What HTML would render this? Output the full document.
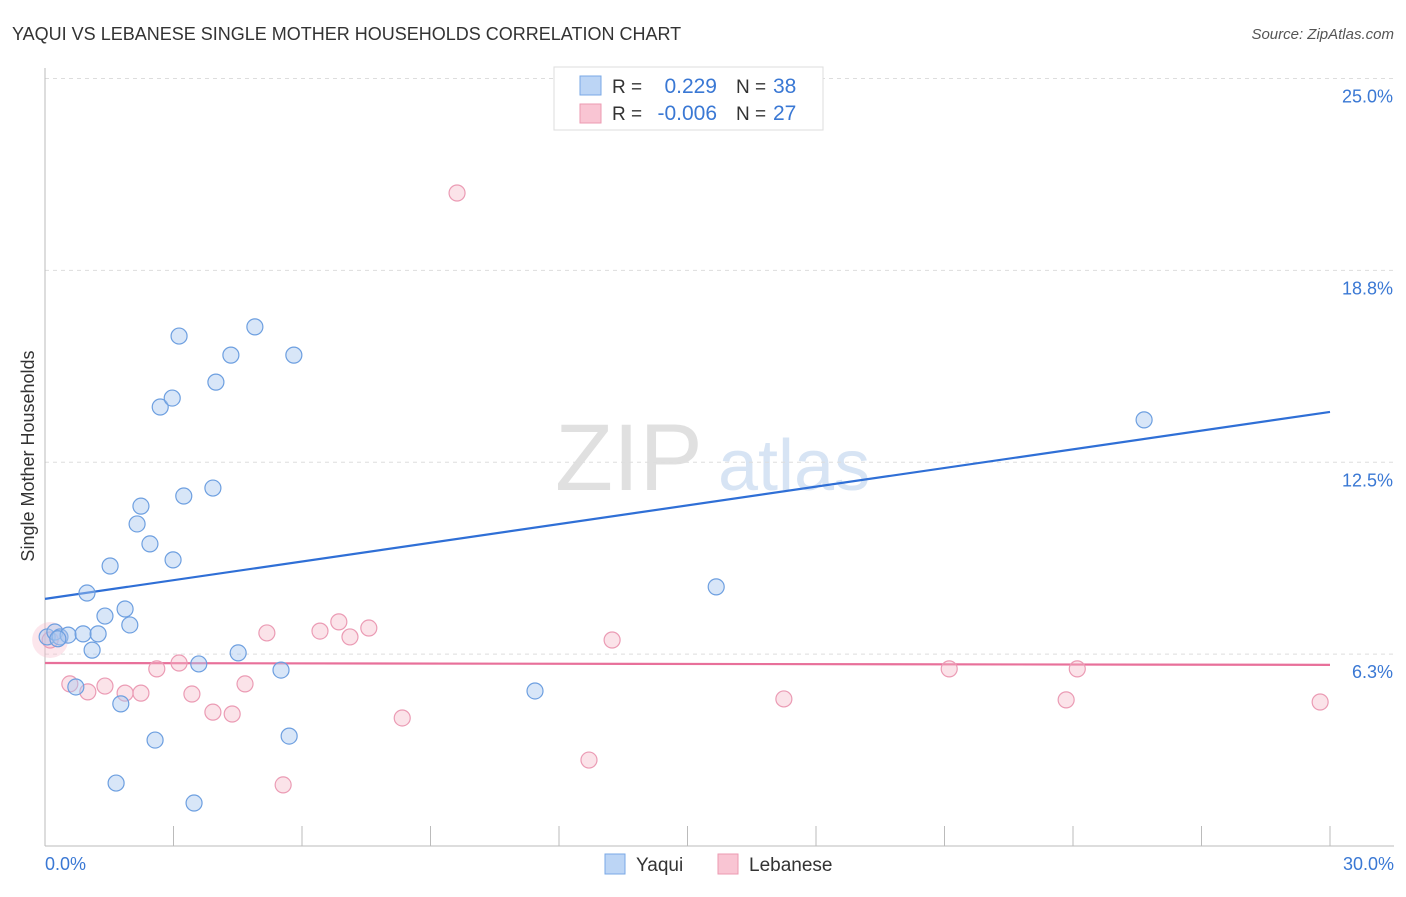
<!DOCTYPE html>
<html><head><meta charset="utf-8"><style>
body{margin:0;background:#fff;font-family:"Liberation Sans",sans-serif;}
svg text{font-family:"Liberation Sans",sans-serif;}
</style></head><body>
<svg id="chart" width="1406" height="892" xmlns="http://www.w3.org/2000/svg">
<text x="12" y="40" font-size="18" fill="#333">YAQUI VS LEBANESE SINGLE MOTHER HOUSEHOLDS CORRELATION CHART</text>
<text x="1394" y="39" font-size="15" fill="#555" text-anchor="end" font-style="italic">Source: ZipAtlas.com</text>
<text transform="translate(34,456) rotate(-90)" font-size="18" fill="#333" text-anchor="middle">Single Mother Households</text>
<g opacity="0.45"><text x="555" y="490" font-size="95" fill="#bbb" font-family="Liberation Serif">ZIP</text><text x="718" y="490" font-size="72" fill="#a8c4e8">atlas</text></g>
<g id="grid"></g><g id="axes"></g><g id="trends"></g><g id="pts"></g>
<g>
<rect x="554" y="67" width="269" height="63" fill="#fff" stroke="#ddd"/>
<rect x="580" y="76" width="21" height="19" fill="#bcd5f5" stroke="#7aa8e6"/>
<rect x="580" y="104" width="21" height="19" fill="#f9c5d3" stroke="#ec9ab2"/>
<text x="612" y="93" font-size="19" fill="#333">R =</text><text x="717" y="93" font-size="21" fill="#3a78d4" text-anchor="end">0.229</text>
<text x="736" y="93" font-size="19" fill="#333">N =</text><text x="773" y="93" font-size="21" fill="#3a78d4">38</text>
<text x="612" y="120" font-size="19" fill="#333">R =</text><text x="717" y="120" font-size="21" fill="#3a78d4" text-anchor="end">-0.006</text>
<text x="736" y="120" font-size="19" fill="#333">N =</text><text x="773" y="120" font-size="21" fill="#3a78d4">27</text>
</g>
<g>
<rect x="605" y="854" width="20" height="20" fill="#bcd5f5" stroke="#7aa8e6"/>
<text x="636" y="871" font-size="19" fill="#333">Yaqui</text>
<rect x="718" y="854" width="20" height="20" fill="#f9c5d3" stroke="#ec9ab2"/>
<text x="749" y="871" font-size="19" fill="#333">Lebanese</text>
</g>
</svg>
<script>
const yTicks=[6.25,12.5,18.75,25];
const yTickLabels=["6.3%","12.5%","18.8%","25.0%"];
const xTicks=[0,3,6,9,12,15,18,21,24,27,30];
const yaquiX=[0.05,0.23,0.35,0.54,0.89,1.24,1.10,0.72,0.98,1.40,1.52,1.87,1.98,1.77,2.15,2.24,2.45,2.57,1.66,2.69,2.97,2.99,3.13,3.24,3.48,3.59,3.92,3.99,4.34,4.51,4.90,5.51,5.70,5.81,11.44,15.67,25.66,0.30];
const yaquiY=[6.81,6.97,6.81,6.87,6.91,6.91,6.38,5.18,8.24,7.49,9.12,7.72,7.20,4.63,10.49,11.07,9.84,3.45,2.05,14.30,14.59,9.32,16.61,11.40,1.40,5.93,11.66,15.11,15.99,6.29,16.91,5.73,3.58,15.99,5.05,8.44,13.88,6.75];
const lebX=[0.12,0.58,1.00,1.40,1.87,2.24,2.61,3.13,3.43,3.92,4.37,4.67,5.18,5.56,6.42,6.86,7.12,7.56,8.34,9.62,12.70,13.24,17.25,21.11,23.84,24.10,29.77];
const lebY=[6.71,5.28,5.02,5.21,4.98,4.98,5.77,5.96,4.95,4.36,4.30,5.28,6.94,1.99,7.00,7.30,6.81,7.10,4.17,21.27,2.80,6.71,4.79,5.77,4.76,5.77,4.69];
const yaquiTrend=[8.05,14.14];
const lebTrend=[5.96,5.90];
const NS="http://www.w3.org/2000/svg";
const X=v=>45+v/30*1285, Y=v=>846-v*30.7;
function mk(t,a,p){const e=document.createElementNS(NS,t);for(const k in a)e.setAttribute(k,a[k]);document.getElementById(p).appendChild(e);return e;}
yTicks.forEach((t,i)=>{
 const g=mk('line',{x1:45,x2:1394,y1:Y(t),y2:Y(t),stroke:'#ddd','stroke-dasharray':'4,4'},'grid');
 
 
 const l=mk('text',{x:1393,y:Y(t)+24,'font-size':18,fill:'#3a78d4','text-anchor':'end'},'grid');
 l.textContent=yTickLabels[i];
 
 
});
const ya=mk('line',{x1:45,x2:45,y1:68,y2:846,stroke:'#bbb'},'axes');


const xa=mk('line',{x1:45,x2:1394,y1:846,y2:846,stroke:'#bbb'},'axes');


xTicks.forEach(t=>{const e=mk('line',{x1:X(t),x2:X(t),y1:826,y2:846,stroke:'#bbb'},'axes');
 
 });
const l0=mk('text',{x:45,y:870,'font-size':18,fill:'#3a78d4'},'axes');l0.textContent='0.0%';


const l1=mk('text',{x:1394,y:870,'font-size':18,fill:'#3a78d4','text-anchor':'end'},'axes');l1.textContent='30.0%';


const tb=mk('line',{x1:X(0),x2:X(30),y1:Y(yaquiTrend[0]),y2:Y(yaquiTrend[1]),stroke:'#2f6fd6','stroke-width':2.2},'trends');


const tp=mk('line',{x1:X(0),x2:X(30),y1:Y(lebTrend[0]),y2:Y(lebTrend[1]),stroke:'#e8709a','stroke-width':2.2},'trends');


const big=mk('circle',{cx:X(0.12),cy:Y(6.71),r:18,fill:'rgba(245,184,200,0.35)',stroke:'none'},'pts');


lebX.forEach((x,i)=>{const c=mk('circle',{cx:X(x),cy:Y(lebY[i]),r:8,fill:'rgba(245,184,200,0.4)',stroke:'#eb9bb4','stroke-width':1.2},'pts');
 
 });
yaquiX.forEach((x,i)=>{const c=mk('circle',{cx:X(x),cy:Y(yaquiY[i]),r:8,fill:'rgba(168,200,240,0.45)',stroke:'#6d9fe0','stroke-width':1.2},'pts');
 
 });
</script>
</body></html>
